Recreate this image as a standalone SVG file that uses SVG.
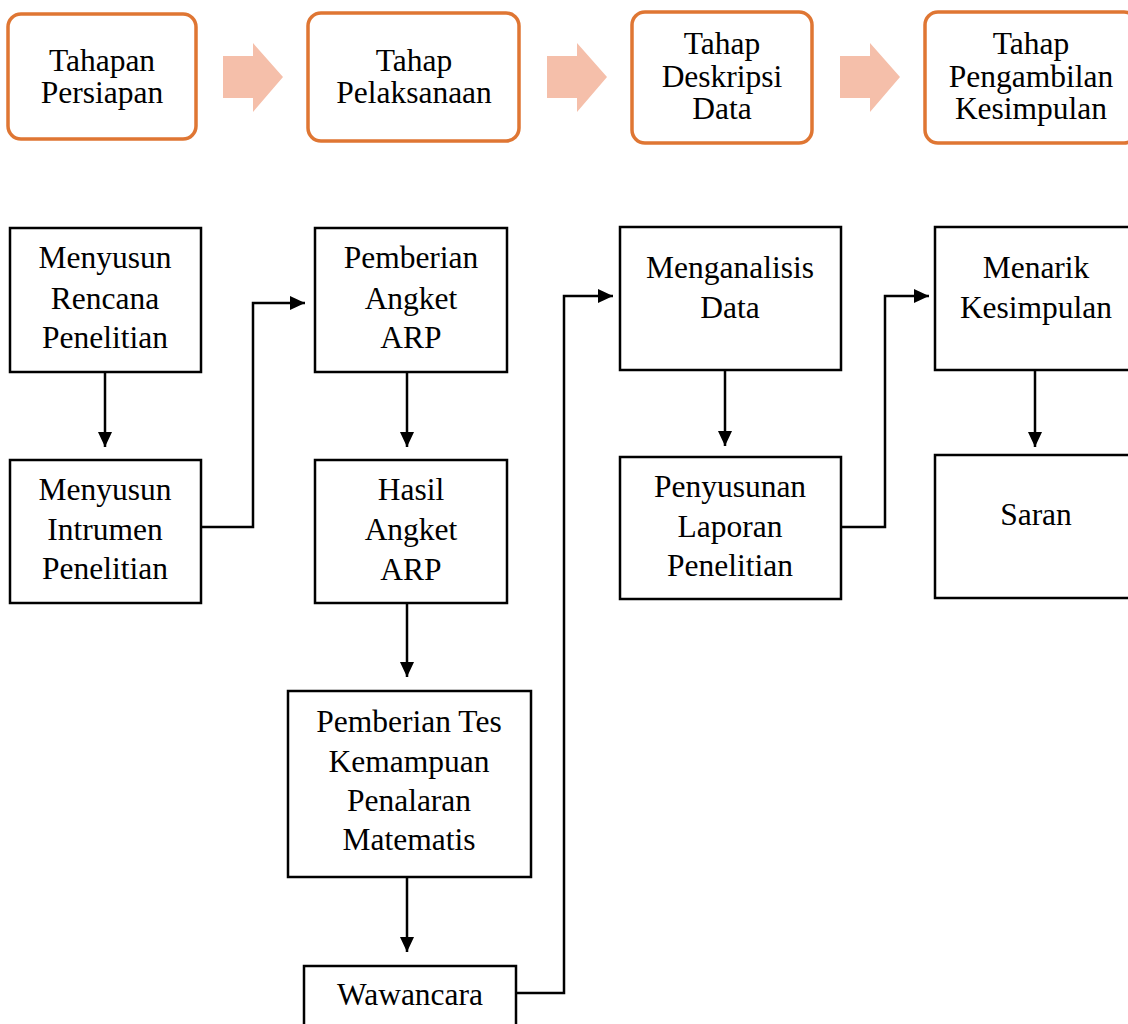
<svg xmlns="http://www.w3.org/2000/svg" width="1128" height="1024" viewBox="0 0 1128 1024">
  <defs>
    <style>
      .stage { fill: #ffffff; stroke: #DF7633; stroke-width: 3.5; }
      .step { fill: #ffffff; stroke: #000000; stroke-width: 2.5; }
      .big { fill: #F5BFAA; stroke: none; }
      .conn { fill: none; stroke: #000000; stroke-width: 2.5; }
      .t { font-size: 31.5px; fill: #000000; text-anchor: middle; }
    </style>
    <marker id="ah" markerUnits="userSpaceOnUse" markerWidth="16" markerHeight="16" viewBox="0 0 16 16" refX="15" refY="8" orient="auto">
      <path d="M0,1 L15,8 L0,15 Z" fill="#000000"/>
    </marker>
  </defs>
  <rect width="1128" height="1024" fill="#ffffff"/>

  <g font-family="Liberation Serif, serif">
  <!-- Top stage row -->
  <g id="stage-persiapan">
    <rect class="stage" x="8" y="14" width="188" height="125" rx="13"/>
    <text class="t" x="102" y="71">Tahapan</text>
    <text class="t" x="102" y="103">Persiapan</text>
  </g>
  <g id="bigarrow-1"><path class="big" d="M223,56 H253 V43 L283,77 L253,112 V98 H223 Z"/></g>
  <g id="stage-pelaksanaan">
    <rect class="stage" x="308" y="13" width="211" height="128" rx="13"/>
    <text class="t" x="414" y="71">Tahap</text>
    <text class="t" x="414" y="103">Pelaksanaan</text>
  </g>
  <g id="bigarrow-2"><path class="big" d="M547,56 H577 V43 L607,77 L577,112 V98 H547 Z"/></g>
  <g id="stage-deskripsi">
    <rect class="stage" x="632" y="12" width="180" height="131" rx="13"/>
    <text class="t" x="722" y="54">Tahap</text>
    <text class="t" x="722" y="87">Deskripsi</text>
    <text class="t" x="722" y="119">Data</text>
  </g>
  <g id="bigarrow-3"><path class="big" d="M840,56 H870 V43 L900,77 L870,112 V98 H840 Z"/></g>
  <g id="stage-kesimpulan">
    <rect class="stage" x="925" y="12" width="212" height="131" rx="13"/>
    <text class="t" x="1031" y="54">Tahap</text>
    <text class="t" x="1031" y="87">Pengambilan</text>
    <text class="t" x="1031" y="119">Kesimpulan</text>
  </g>

  <!-- Connectors -->
  <g id="connectors">
    <path class="conn" d="M105,372 V447" marker-end="url(#ah)"/>
    <path class="conn" d="M201,527 H253 V303 H305" marker-end="url(#ah)"/>
    <path class="conn" d="M407,372 V447" marker-end="url(#ah)"/>
    <path class="conn" d="M407,603 V677" marker-end="url(#ah)"/>
    <path class="conn" d="M407,877 V952" marker-end="url(#ah)"/>
    <path class="conn" d="M517,993 H564 V296 H613" marker-end="url(#ah)"/>
    <path class="conn" d="M725,370 V446" marker-end="url(#ah)"/>
    <path class="conn" d="M841,527 H885 V296 H929" marker-end="url(#ah)"/>
    <path class="conn" d="M1035,370 V447" marker-end="url(#ah)"/>
  </g>

  <!-- Steps -->
  <g id="menyusun-rencana">
    <rect class="step" x="10" y="228" width="191" height="144"/>
    <text class="t" x="105" y="268">Menyusun</text>
    <text class="t" x="105" y="309">Rencana</text>
    <text class="t" x="105" y="348">Penelitian</text>
  </g>
  <g id="menyusun-intrumen">
    <rect class="step" x="10" y="460" width="191" height="143"/>
    <text class="t" x="105" y="500">Menyusun</text>
    <text class="t" x="105" y="540">Intrumen</text>
    <text class="t" x="105" y="579">Penelitian</text>
  </g>
  <g id="pemberian-angket">
    <rect class="step" x="315" y="228" width="192" height="144"/>
    <text class="t" x="411" y="268">Pemberian</text>
    <text class="t" x="411" y="309">Angket</text>
    <text class="t" x="411" y="348">ARP</text>
  </g>
  <g id="hasil-angket">
    <rect class="step" x="315" y="460" width="192" height="143"/>
    <text class="t" x="411" y="500">Hasil</text>
    <text class="t" x="411" y="540">Angket</text>
    <text class="t" x="411" y="580">ARP</text>
  </g>
  <g id="pemberian-tes">
    <rect class="step" x="288" y="691" width="243" height="186"/>
    <text class="t" x="409" y="732">Pemberian Tes</text>
    <text class="t" x="409" y="772">Kemampuan</text>
    <text class="t" x="409" y="811">Penalaran</text>
    <text class="t" x="409" y="850">Matematis</text>
  </g>
  <g id="wawancara">
    <rect class="step" x="304" y="966" width="212" height="80"/>
    <text class="t" x="410" y="1005">Wawancara</text>
  </g>
  <g id="menganalisis-data">
    <rect class="step" x="620" y="227" width="221" height="143"/>
    <text class="t" x="730" y="278">Menganalisis</text>
    <text class="t" x="730" y="318">Data</text>
  </g>
  <g id="penyusunan-laporan">
    <rect class="step" x="620" y="457" width="221" height="142"/>
    <text class="t" x="730" y="497">Penyusunan</text>
    <text class="t" x="730" y="537">Laporan</text>
    <text class="t" x="730" y="576">Penelitian</text>
  </g>
  <g id="menarik-kesimpulan">
    <rect class="step" x="935" y="227" width="203" height="143"/>
    <text class="t" x="1036" y="278">Menarik</text>
    <text class="t" x="1036" y="318">Kesimpulan</text>
  </g>
  <g id="saran">
    <rect class="step" x="935" y="455" width="203" height="143"/>
    <text class="t" x="1036" y="525">Saran</text>
  </g>
  </g>
</svg>
